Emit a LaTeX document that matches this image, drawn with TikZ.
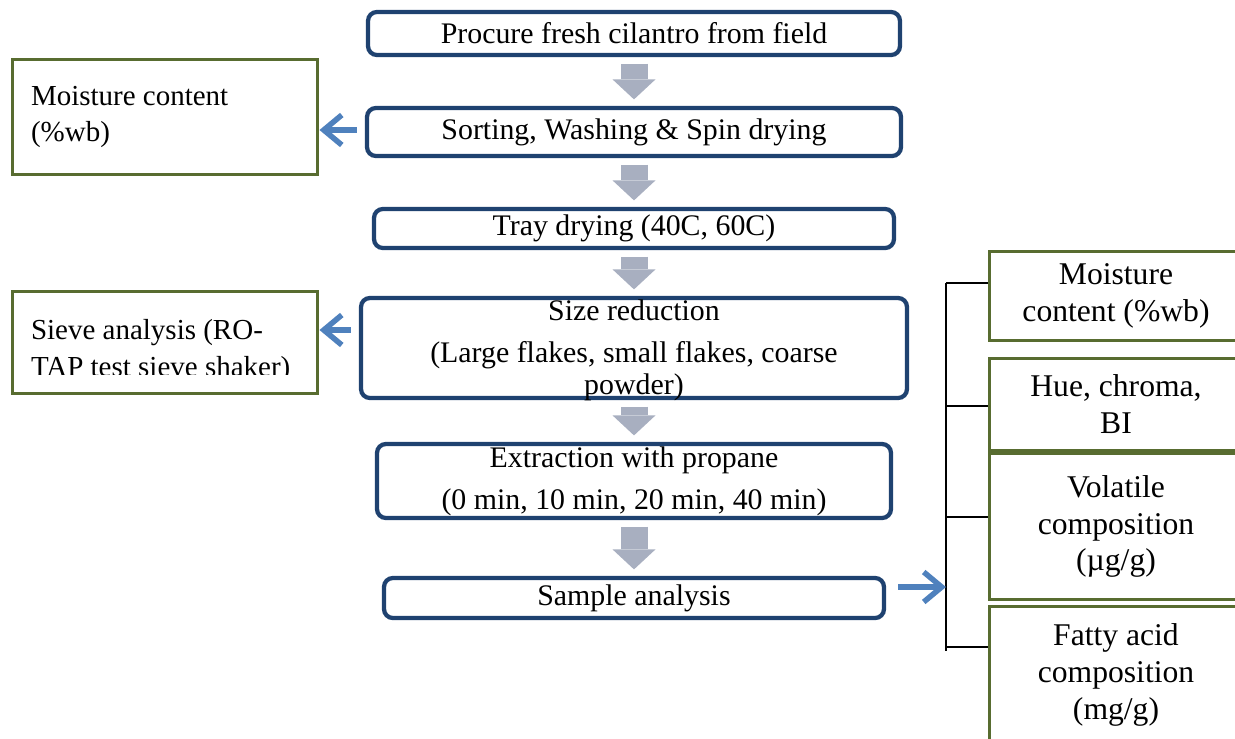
\documentclass[tikz,border=0pt]{standalone}
\usepackage{fontspec}
\setmainfont{Liberation Serif}
\usepackage{tikz}
\usetikzlibrary{arrows.meta, positioning, calc}
\definecolor{flownavy}{RGB}{31,66,112}
\definecolor{boxolive}{RGB}{88,108,48}
\definecolor{linkblue}{RGB}{79,129,189}
\definecolor{stepgray}{RGB}{168,175,192}
\tikzset{
  flowbox/.style={rectangle, draw=flownavy, line width=0.085cm,
    rounded corners=5pt, inner xsep=2pt, inner ysep=1pt, align=center,
    font=\fontsize{17}{18}\selectfont},
  flowtext/.style={align=center, font=\fontsize{17}{18}\selectfont},
  sidebox/.style={rectangle, draw=boxolive, line width=0.06cm,
    text width=5.36cm, inner xsep=0.38cm, align=flush left,
    font=\fontsize{16.5}{20}\selectfont},
  sidetext/.style={text width=5.36cm, inner xsep=0.38cm, align=flush left,
    font=\fontsize{16.5}{21}\selectfont},
  resbox/.style={rectangle, draw=boxolive, line width=0.065cm,
    minimum width=5.05cm, align=center, font=\fontsize{18}{21}\selectfont},
  grayarrow/.style={-{Triangle[length=0.4cm, width=0.86cm, line width=0pt]},
    line width=0.54cm, color=stepgray, shorten <=0.13cm, shorten >=0.13cm},
  bluearrow/.style={-{Straight Barb[length=0.36cm, width=0.6cm]},
    line width=0.11cm, color=linkblue},
  bracket/.style={line width=0.04cm, color=black}
}
\begin{document}
\begin{tikzpicture}[x=0.02cm, y=-0.02cm]
  \clip (0,0) rectangle (1235,738);

  % process steps
  \node[flowbox, minimum width=10.64cm, minimum height=0.86cm] (procure) at (634,33.5)
    {Procure fresh cilantro from field};
  \node[flowbox, minimum width=10.68cm, minimum height=0.96cm] (sorting) at (634,132)
    {Sorting, Washing \& Spin drying};
  \node[flowbox, minimum width=10.4cm, minimum height=0.78cm] (tray) at (634,228.5)
    {Tray drying (40C, 60C)};
  \node[flowbox, minimum width=10.92cm, minimum height=2.0cm] (size) at (634,348) {};
  \node[flowtext] (sizetxt) at ([yshift=-0.05cm]size.center)
    {Size reduction\\[6pt](Large flakes, small flakes, coarse\\powder)};
  \node[flowbox, minimum width=10.28cm, minimum height=1.48cm] (extract) at (634,481)
    {Extraction with propane\\[6pt](0 min, 10 min, 20 min, 40 min)};
  \node[flowbox, minimum width=10.0cm, minimum height=0.8cm] (sample) at (634,598)
    {Sample analysis};

  \foreach \src/\dst in {procure/sorting, sorting/tray, tray/size, size/extract, extract/sample}
    \draw[grayarrow] (\src.south) -- (\dst.north);

  % side measurements
  \node[sidebox, minimum height=2.3cm] (moist) at (165,117) {Moisture content\\(\%wb)};
  \node[sidebox, minimum height=2.04cm] (sieve) at (165,342.5) {};
  \begin{scope}
    \clip (10,290) rectangle (322,374);
    \node[sidetext] (sievetxt) at (165,351) {Sieve analysis (RO-\\TAP test sieve shaker)};
  \end{scope}

  \draw[bluearrow, shorten <=0.16cm] (sorting.west |- 0,130) -- (moist.east |- 0,130);
  \draw[bluearrow, shorten <=0.16cm] (size.west |- 0,330) -- (sieve.east |- 0,330);

  % analysis results
  \node[resbox, minimum height=1.78cm] (resmoist) at (1116,296) {Moisture\\content (\%wb)};
  \node[resbox, minimum height=1.84cm] (rescolor) at (1116,404.5) {Hue, chroma,\\BI};
  \node[resbox, minimum height=2.92cm] (resvol) at (1116,526.5) {Volatile\\composition\\(µg/g)};
  \node[resbox, minimum height=2.74cm] (resfat) at (1116,675) {Fatty acid\\composition\\(mg/g)};

  \coordinate (brtop) at (946,283);
  \coordinate (brbot) at (946,651);
  \draw[bracket] (brtop) -- (brbot);
  \foreach \res/\yy in {resmoist/283, rescolor/406, resvol/517, resfat/647}
    \draw[bracket] (946,\yy) -- (\res.west |- 0,\yy);

  \draw[bluearrow, shorten <=0.24cm] (sample.east |- 0,587) -- (brtop |- 0,587);
\end{tikzpicture}
\end{document}
